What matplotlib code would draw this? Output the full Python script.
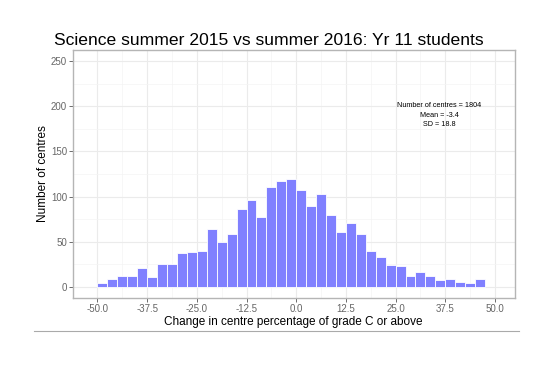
import numpy as np
import matplotlib.pyplot as plt

plt.rcParams['font.family'] = ['Liberation Sans', 'DejaVu Sans']

# histogram bins (left edges, width 2.5) and counts
bin_left = np.arange(-50, 47.5, 2.5)
counts = [4, 9, 12, 12, 21, 11, 25, 25, 37, 38,
          40, 64, 50, 59, 86, 96, 77, 111, 117, 119,
          107, 89, 103, 79, 61, 71, 58, 40, 33, 24,
          23, 12, 16, 12, 7, 8, 5, 4, 9]
x_ticks = [-50.0, -37.5, -25.0, -12.5, 0.0, 12.5, 25.0, 37.5, 50.0]
y_ticks = [0, 50, 100, 150, 200, 250]

fig = plt.figure(figsize=(5.46, 3.82), dpi=100)
ax = fig.add_axes([0.133, 0.220, 0.810, 0.649])

ax.bar(bin_left, counts, width=2.5, align='edge', color='#8080FF',
       edgecolor='white', linewidth=0.6, zorder=3)

ax.set_xlim(-55, 55)
ax.set_ylim(-12.5, 262.5)
ax.set_xticks(x_ticks)
ax.set_xticklabels(['%.1f' % t for t in x_ticks])
ax.set_yticks(y_ticks)
ax.set_xticks([-56.25, -43.75, -31.25, -18.75, -6.25, 6.25, 18.75, 31.25, 43.75], minor=True)
ax.set_yticks([25, 75, 125, 175, 225], minor=True)
ax.grid(True, which='major', color='#EBEBEB', linewidth=0.8, zorder=0)
ax.grid(True, which='minor', color='#F4F4F4', linewidth=0.5, zorder=0)
ax.tick_params(which='major', length=3, width=0.6, color='#555555',
               labelsize=7, labelcolor='#666666', pad=1)
ax.tick_params(which='minor', length=0)
for s in ax.spines.values():
    s.set_color('#B5B5B5')
    s.set_linewidth(1.0)

ax.set_xlabel('Change in centre percentage of grade C or above', fontsize=8.5, labelpad=2)
ax.set_ylabel('Number of centres', fontsize=8.5, labelpad=1.5)

ax.text(36, 190, 'Number of centres = 1804\nMean = -3.4\nSD = 18.8',
        ha='center', va='center', fontsize=5.2, linespacing=1.5, zorder=4)

fig.text(0.492, 0.882, 'Science summer 2015 vs summer 2016: Yr 11 students',
         ha='center', va='baseline', fontsize=12.6)

fig.add_artist(plt.Line2D([0.062, 0.951], [0.134, 0.134], color='#AAAAAA', linewidth=0.8))

fig.savefig('out.png', dpi=100)
